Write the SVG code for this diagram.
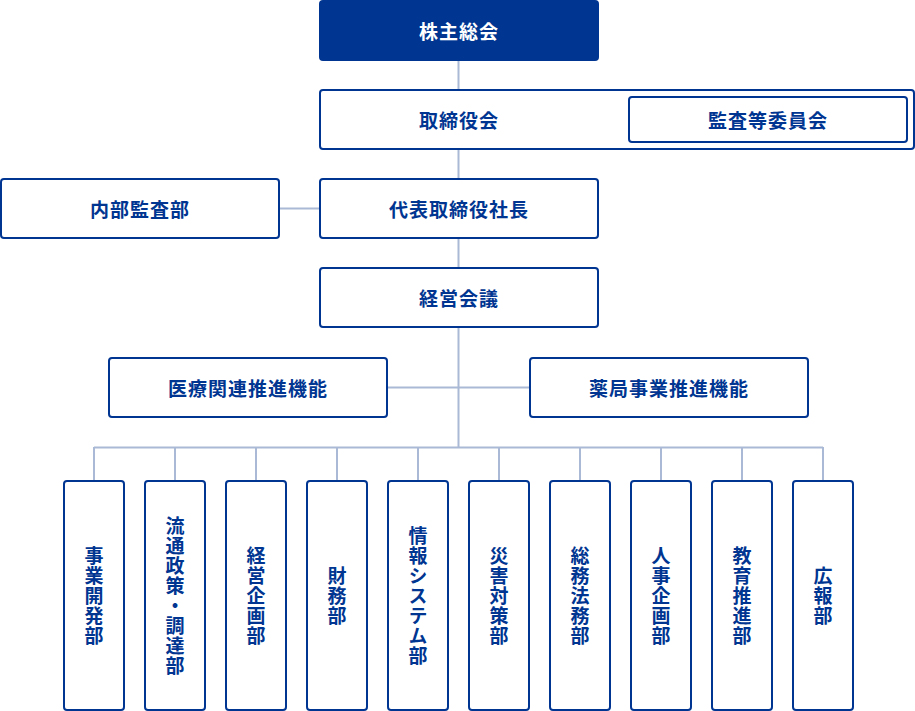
<svg xmlns="http://www.w3.org/2000/svg" width="915" height="711" viewBox="0 0 915 711">
<style>
.b{fill:#fff;stroke:#003591;stroke-width:2}
.t{font-family:"Noto Sans CJK JP","Noto Sans",sans-serif;font-weight:700;font-size:19px;fill:#003591;text-anchor:middle;dominant-baseline:central;letter-spacing:1px}
.v{writing-mode:vertical-rl;letter-spacing:1px}
.c{stroke:#a9b9d6;stroke-width:2;fill:none}
</style>
<g id="connectors" class="c">
<path d="M458.5 60V89M458.5 149V178M458.5 238V267M458.5 327V447M279 208.5H319M387 387.5H529M94 447.5H823"/>
<path d="M94 447V480M175 447V480M256 447V480M337 447V480M418 447V480M499 447V480M580 447V480M661 447V480M742 447V480M823 447V480"/>
</g>
<g id="n1"><rect x="319" y="0" width="280" height="61" rx="4" fill="#003591"/><text class="t" x="459" y="30" style="fill:#fff">株主総会</text></g>
<g id="n2"><rect class="b" x="320" y="90" width="594" height="59" rx="3"/><text class="t" x="459" y="119">取締役会</text></g>
<g id="n3"><rect class="b" x="629" y="97" width="278" height="45" rx="3"/><text class="t" x="768" y="119">監査等委員会</text></g>
<g id="n4"><rect class="b" x="1" y="179" width="278" height="59" rx="3"/><text class="t" x="140" y="208">内部監査部</text></g>
<g id="n5"><rect class="b" x="320" y="179" width="278" height="59" rx="3"/><text class="t" x="459" y="208">代表取締役社長</text></g>
<g id="n6"><rect class="b" x="320" y="268" width="278" height="59" rx="3"/><text class="t" x="459" y="297">経営会議</text></g>
<g id="n7"><rect class="b" x="109" y="358" width="278" height="59" rx="3"/><text class="t" x="248" y="387">医療関連推進機能</text></g>
<g id="n8"><rect class="b" x="530" y="358" width="278" height="59" rx="3"/><text class="t" x="669" y="387">薬局事業推進機能</text></g>
<g id="d1"><rect class="b" x="64" y="481" width="60" height="229" rx="3"/><text class="t v" x="94" y="596">事業開発部</text></g>
<g id="d2"><rect class="b" x="145" y="481" width="60" height="229" rx="3"/><text class="t v" x="175" y="596">流通政策・調達部</text></g>
<g id="d3"><rect class="b" x="226" y="481" width="60" height="229" rx="3"/><text class="t v" x="256" y="596">経営企画部</text></g>
<g id="d4"><rect class="b" x="307" y="481" width="60" height="229" rx="3"/><text class="t v" x="337" y="596">財務部</text></g>
<g id="d5"><rect class="b" x="388" y="481" width="60" height="229" rx="3"/><text class="t v" x="418" y="596">情報システム部</text></g>
<g id="d6"><rect class="b" x="469" y="481" width="60" height="229" rx="3"/><text class="t v" x="499" y="596">災害対策部</text></g>
<g id="d7"><rect class="b" x="550" y="481" width="60" height="229" rx="3"/><text class="t v" x="580" y="596">総務法務部</text></g>
<g id="d8"><rect class="b" x="631" y="481" width="60" height="229" rx="3"/><text class="t v" x="661" y="596">人事企画部</text></g>
<g id="d9"><rect class="b" x="712" y="481" width="60" height="229" rx="3"/><text class="t v" x="742" y="596">教育推進部</text></g>
<g id="d10"><rect class="b" x="793" y="481" width="60" height="229" rx="3"/><text class="t v" x="823" y="596">広報部</text></g>
</svg>
